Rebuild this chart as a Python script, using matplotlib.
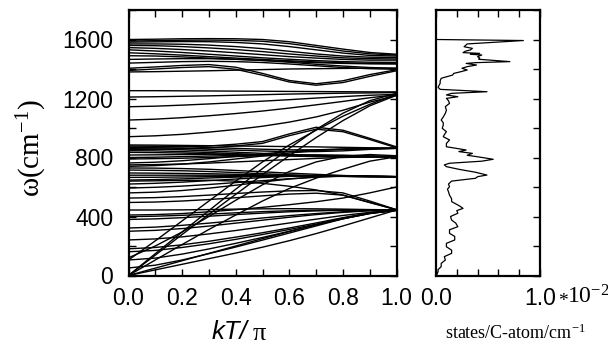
import matplotlib
matplotlib.use('Agg')
import matplotlib.pyplot as plt
from matplotlib.ticker import MultipleLocator

plt.rcParams['font.family'] = ['Liberation Sans', 'DejaVu Sans']
plt.rcParams['mathtext.fontset'] = 'custom'
plt.rcParams['mathtext.rm'] = 'Liberation Serif'
plt.rcParams['mathtext.it'] = 'Liberation Serif:italic'

# reduced wave vector kT/pi
k_points = [0.0, 0.1, 0.2, 0.3, 0.4, 0.5, 0.6, 0.7, 0.8, 0.9, 1.0]

# phonon branches (cm^-1) read at k_points
bands_high = [
    [1600, 1602, 1605, 1606, 1605, 1600, 1585, 1560, 1535, 1512, 1500],
    [1590, 1592, 1595, 1596, 1594, 1588, 1572, 1548, 1522, 1503, 1495],
    [1582, 1584, 1586, 1585, 1580, 1570, 1552, 1530, 1508, 1492, 1488],
    [1570, 1570, 1568, 1562, 1552, 1538, 1520, 1502, 1488, 1480, 1478],
    [1560, 1558, 1552, 1543, 1532, 1518, 1502, 1488, 1476, 1470, 1468],
    [1545, 1540, 1532, 1522, 1510, 1497, 1484, 1474, 1465, 1460, 1460],
    [1530, 1522, 1512, 1500, 1488, 1476, 1466, 1457, 1450, 1446, 1445],
    [1510, 1503, 1494, 1484, 1474, 1465, 1456, 1448, 1442, 1438, 1437],
    [1490, 1488, 1482, 1474, 1466, 1458, 1450, 1443, 1438, 1435, 1434],
    [1465, 1468, 1470, 1470, 1466, 1458, 1446, 1432, 1420, 1410, 1405],
    [1440, 1445, 1450, 1452, 1450, 1444, 1434, 1422, 1410, 1402, 1398],
    [1405, 1414, 1424, 1430, 1412, 1370, 1322, 1300, 1320, 1362, 1395],
    [1390, 1400, 1410, 1416, 1398, 1358, 1312, 1290, 1308, 1350, 1388],
    [1380, 1382, 1385, 1388, 1392, 1396, 1400, 1402, 1404, 1405, 1405],
]

bands_1200 = [
    [1253, 1253, 1252, 1251, 1250, 1249, 1248, 1247, 1246, 1245, 1245],
    [1210, 1212, 1215, 1218, 1222, 1226, 1230, 1233, 1236, 1238, 1240],
    [1144, 1148, 1155, 1163, 1172, 1182, 1192, 1203, 1213, 1222, 1228],
    [1054, 1060, 1070, 1083, 1098, 1115, 1135, 1157, 1180, 1205, 1225],
    [941, 947, 957, 972, 990, 1012, 1040, 1075, 1120, 1175, 1220],
]

bands_mid = [
    [885, 884, 882, 880, 878, 876, 874, 872, 869, 866, 864],
    [878, 876, 873, 868, 862, 856, 852, 852, 855, 860, 862],
    [868, 866, 862, 856, 850, 844, 840, 840, 845, 855, 862],
    [860, 858, 852, 845, 836, 828, 820, 814, 810, 808, 806],
    [846, 845, 840, 834, 826, 818, 812, 808, 806, 805, 805],
    [835, 833, 830, 825, 820, 815, 810, 806, 804, 804, 805],
    [817, 818, 820, 822, 822, 820, 816, 812, 808, 806, 805],
    [800, 802, 806, 810, 814, 816, 816, 814, 810, 807, 805],
    [790, 792, 795, 800, 806, 812, 816, 818, 816, 811, 806],
    [763, 768, 778, 792, 808, 825, 840, 852, 858, 861, 862],
    [740, 745, 755, 770, 790, 810, 830, 846, 856, 861, 863],
    [750, 752, 756, 762, 770, 778, 786, 794, 800, 804, 806],
    [870, 870, 872, 878, 890, 908, 960, 1005, 985, 930, 872],
    [855, 856, 858, 864, 878, 896, 948, 992, 975, 922, 866],
    [729, 728, 725, 720, 712, 703, 694, 686, 678, 673, 670],
    [715, 713, 710, 705, 698, 690, 683, 677, 673, 670, 670],
    [695, 694, 692, 690, 686, 682, 678, 675, 672, 670, 670],
    [680, 680, 680, 680, 679, 678, 676, 674, 672, 670, 670],
    [665, 666, 668, 670, 672, 674, 675, 675, 673, 671, 670],
    [647, 650, 655, 661, 667, 672, 676, 678, 676, 672, 670],
    [620, 625, 633, 643, 654, 664, 672, 677, 677, 673, 670],
    [593, 598, 606, 617, 630, 643, 656, 667, 673, 673, 670],
    [560, 565, 576, 592, 612, 634, 654, 668, 675, 673, 670],
    [525, 528, 535, 545, 556, 566, 574, 576, 560, 505, 446],
    [495, 498, 505, 515, 527, 540, 552, 558, 545, 495, 446],
    [640, 642, 645, 646, 640, 625, 605, 580, 545, 495, 446],
]

bands_low = [
    [444, 444, 445, 447, 450, 452, 453, 452, 450, 447, 445],
    [410, 413, 420, 432, 446, 462, 480, 500, 525, 560, 600],
    [399, 402, 408, 416, 425, 433, 439, 443, 445, 445, 445],
    [380, 384, 392, 402, 413, 423, 432, 438, 442, 444, 444],
    [322, 328, 340, 355, 372, 390, 406, 420, 432, 440, 444],
    [300, 306, 318, 335, 355, 375, 395, 413, 428, 439, 444],
    [241, 248, 262, 282, 305, 330, 356, 382, 407, 428, 443],
    [181, 190, 208, 232, 260, 290, 322, 356, 392, 424, 442],
    [161, 170, 190, 215, 245, 278, 312, 348, 385, 420, 442],
    [105, 118, 145, 180, 218, 258, 300, 344, 388, 425, 442],
    [51, 70, 105, 148, 193, 240, 288, 336, 384, 422, 441],
    [0, 38, 76, 114, 152, 192, 236, 284, 336, 390, 444],
    [0, 50, 100, 150, 200, 250, 298, 343, 385, 420, 444],
    [0, 105, 210, 312, 410, 505, 590, 660, 720, 775, 805],
    [0, 148, 295, 440, 585, 725, 862, 990, 1100, 1185, 1235],
    [0, 138, 278, 415, 550, 684, 812, 935, 1050, 1150, 1222],
    [105, 235, 370, 505, 640, 770, 885, 985, 1080, 1160, 1230],
    [120, 200, 295, 400, 510, 615, 705, 770, 808, 820, 812],
]

# density of states (units of 1e-2 states/C-atom/cm^-1) vs frequency
dos_freq = [1600, 1593, 1570, 1551, 1540, 1529, 1520, 1511, 1506, 1500, 1495,
            1484, 1475, 1466, 1450, 1443, 1438, 1427, 1416, 1405, 1393, 1382,
            1370, 1359, 1337, 1320, 1303, 1290, 1276, 1262, 1246, 1235, 1224,
            1212, 1201, 1185, 1167, 1145, 1120, 1100, 1075, 1054, 1035, 1020,
            998, 975, 955, 941, 919, 895, 873, 851, 840, 828, 815, 806, 788,
            775, 761, 750, 738, 720, 700, 681, 670, 659, 640, 620, 602, 585,
            568, 545, 520, 501, 478, 465, 455, 440, 422, 400, 376, 355, 331,
            310, 286, 265, 241, 218, 195, 172, 150, 128, 105, 82, 60, 40, 26,
            10, 0]
dos_value = [0.0, 0.84, 0.30, 0.27, 0.35, 0.33, 0.28, 0.26, 0.42, 0.33, 0.44,
             0.40, 0.42, 0.41, 0.71, 0.38, 0.29, 0.39, 0.30, 0.25, 0.30, 0.24,
             0.17, 0.16, 0.05, 0.04, 0.04, 0.03, 0.02, 0.04, 0.49, 0.15, 0.10,
             0.21, 0.10, 0.12, 0.13, 0.09, 0.10, 0.09, 0.07, 0.05, 0.07, 0.07,
             0.06, 0.10, 0.08, 0.07, 0.13, 0.10, 0.10, 0.29, 0.22, 0.35, 0.30,
             0.39, 0.55, 0.44, 0.13, 0.08, 0.10, 0.22, 0.38, 0.49, 0.40, 0.38,
             0.15, 0.12, 0.13, 0.11, 0.12, 0.13, 0.15, 0.15, 0.21, 0.24, 0.26,
             0.20, 0.21, 0.14, 0.15, 0.19, 0.21, 0.13, 0.13, 0.18, 0.18, 0.10,
             0.10, 0.15, 0.15, 0.08, 0.09, 0.05, 0.05, 0.02, 0.02, 0.01, 0.0]

x_ticks = [0.0, 0.2, 0.4, 0.6, 0.8, 1.0]
x_ticklabels = ['0.0', '0.2', '0.4', '0.6', '0.8', '1.0']
y_ticks = [0, 400, 800, 1200, 1600]
dos_ticks = [0.0, 1.0]
dos_ticklabels = ['0.0', '1.0']

W, H = 608, 347
fig = plt.figure(figsize=(W / 100, H / 100), dpi=100)

ax = fig.add_axes([128.5 / W, (H - 275.5) / H, 268 / W, 265.5 / H])
for group in (bands_high, bands_1200, bands_mid, bands_low):
    for b in group:
        ax.plot(k_points, b, color='black', lw=1.0, solid_joinstyle='round')
ax.set_xlim(0, 1)
ax.set_ylim(0, 1800)
ax.set_xticks(x_ticks)
ax.set_xticklabels(x_ticklabels)
ax.set_yticks(y_ticks)
ax.xaxis.set_minor_locator(MultipleLocator(0.1))
ax.yaxis.set_minor_locator(MultipleLocator(200))

ax2 = fig.add_axes([436 / W, (H - 275.5) / H, 104 / W, 265.5 / H])
ax2.plot(dos_value, dos_freq, color='black', lw=0.9)
ax2.set_xlim(0, 1.0)
ax2.set_ylim(0, 1800)
ax2.set_xticks(dos_ticks)
ax2.set_xticklabels(dos_ticklabels)
ax2.xaxis.set_minor_locator(MultipleLocator(0.2))
ax2.set_yticks([])
ax2.yaxis.set_minor_locator(MultipleLocator(200))

for a in (ax, ax2):
    for s in a.spines.values():
        s.set_linewidth(1.6)
    a.tick_params(which='both', direction='in', top=True, right=True,
                  length=5, width=1, labelsize=16.5, colors='black')
    a.tick_params(axis='x', pad=8)
    a.tick_params(axis='y', pad=11)
ax2.tick_params(which='both', left=False)

# labels
fig.text(247 / W, 1 - 332 / H, 'kT/', fontsize=18.5, style='italic',
         ha='right', va='center', family='Liberation Sans')
fig.text(253 / W, 1 - 334 / H, 'π', fontsize=19, ha='left', va='center',
         family='Liberation Serif')
fig.text(32 / W, 1 - 148 / H, r'ω(cm$^{-1}$)', fontsize=21, rotation=90,
         ha='center', va='center', family='Liberation Serif')
fig.text(558 / W, 1 - 301 / H, '*', fontsize=14, ha='left', va='center',
         family='Liberation Serif')
fig.text(567 / W, 1 - 297 / H, r'10$^{-2}$', fontsize=17, ha='left',
         va='center', family='Liberation Serif')
fig.text(515 / W, 1 - 333 / H, r'states/C-atom/cm$^{-1}$', fontsize=13,
         ha='center', va='center', family='Liberation Serif')

fig.savefig('out.png', dpi=100)
